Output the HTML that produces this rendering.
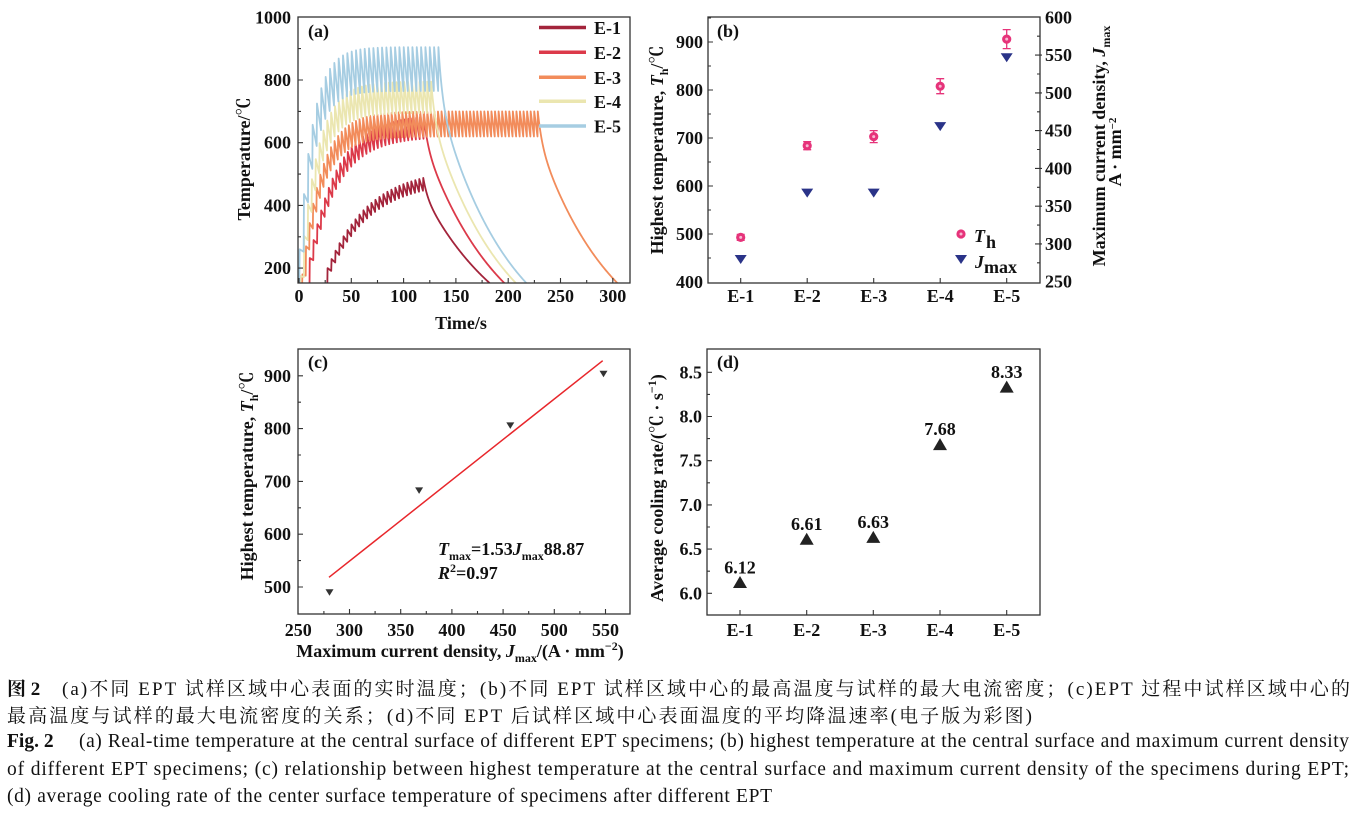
<!DOCTYPE html>
<html><head><meta charset="utf-8">
<style>
html,body{margin:0;padding:0;background:#fff;}
svg{display:block;}
.t{font-family:"Liberation Serif","Noto Serif CJK SC",serif;font-weight:bold;font-size:18px;fill:#111;}
.cap{font-family:"Liberation Serif","Noto Serif CJK SC",serif;font-size:19px;fill:#111;}
.cape{font-family:"Liberation Serif","Noto Serif CJK SC",serif;font-size:19.5px;fill:#111;}
.fr{fill:none;stroke:#333;stroke-width:1.3;}
.tk{fill:none;stroke:#333;stroke-width:1.1;}
</style></head><body>
<svg width="1357" height="813" viewBox="0 0 1357 813" xmlns="http://www.w3.org/2000/svg">
<defs><clipPath id="ca"><rect x="298" y="17" width="332" height="266"/></clipPath></defs>

<!-- ============ Panel (a) ============ -->
<g clip-path="url(#ca)" fill="none" stroke-width="1.8" stroke-linejoin="round">
<path id="e1" stroke="#a3243b"/>
<path id="e2" stroke="#dc3a4a"/>
<path id="e3" stroke="#f28c5b"/>
<path id="e4" stroke="#ebe6b0"/>
<path id="e5" stroke="#a6cde2"/>
</g>
<rect class="fr" x="298" y="17" width="332" height="266"/>
<path class="tk" d="M298 268.1h5M298 205.4h5M298 142.7h5M298 80h5M298 236.8h3M298 174.1h3M298 111.4h3M298 48.6h3
M299 283v-5M351.3 283v-5M403.6 283v-5M455.9 283v-5M508.2 283v-5M560.5 283v-5M612.8 283v-5
M325.2 283v-3M377.5 283v-3M429.8 283v-3M482.1 283v-3M534.4 283v-3M586.7 283v-3"/>
<g class="t" text-anchor="end">
<text x="291" y="274">200</text><text x="291" y="211.4">400</text><text x="291" y="148.7">600</text><text x="291" y="86">800</text><text x="291" y="23.3">1000</text>
</g>
<g class="t" text-anchor="middle">
<text x="299" y="302">0</text><text x="351.3" y="302">50</text><text x="403.6" y="302">100</text><text x="455.9" y="302">150</text><text x="508.2" y="302">200</text><text x="560.5" y="302">250</text><text x="612.8" y="302">300</text>
<text x="461" y="329">Time/s</text>
<text transform="translate(250,159) rotate(-90)">Temperature/℃</text>
</g>
<text class="t" x="308" y="37" font-size="17">(a)</text>
<g stroke-width="3.5">
<line x1="539" y1="27.5" x2="586" y2="27.5" stroke="#a3243b"/>
<line x1="539" y1="52.3" x2="586" y2="52.3" stroke="#dc3a4a"/>
<line x1="539" y1="77.3" x2="586" y2="77.3" stroke="#f28c5b"/>
<line x1="539" y1="101.3" x2="586" y2="101.3" stroke="#ebe6b0"/>
<line x1="539" y1="126" x2="586" y2="126" stroke="#a6cde2"/>
</g>
<g class="t">
<text x="594" y="34">E-1</text><text x="594" y="58.8">E-2</text><text x="594" y="83.8">E-3</text><text x="594" y="107.8">E-4</text><text x="594" y="132.5">E-5</text>
</g>

<!-- ============ Panel (b) ============ -->
<rect class="fr" x="708" y="17" width="332" height="266"/>
<path class="tk" d="M708 234h5M708 186h5M708 138h5M708 90h5M708 42h5M708 258h3M708 210h3M708 162h3M708 114h3M708 66h3M708 18h3
M1042 243.9h-7M1042 206.2h-7M1042 168.4h-7M1042 130.6h-7M1042 92.9h-7M1042 55.1h-7
M1040 262.8h-3M1040 225.1h-3M1040 187.3h-3M1040 149.5h-3M1040 111.8h-3M1040 74h-3M1040 36.2h-3
M740.7 283v-5M807.2 283v-5M873.7 283v-5M940.2 283v-5M1006.7 283v-5"/>
<g class="t" text-anchor="end">
<text x="703" y="288">400</text><text x="703" y="240">500</text><text x="703" y="192">600</text><text x="703" y="144">700</text><text x="703" y="96">800</text><text x="703" y="48">900</text>
</g>
<g class="t">
<text x="1045" y="287.7">250</text><text x="1045" y="249.9">300</text><text x="1045" y="212.2">350</text><text x="1045" y="174.4">400</text><text x="1045" y="136.6">450</text><text x="1045" y="98.9">500</text><text x="1045" y="61.1">550</text><text x="1045" y="23.3">600</text>
</g>
<g class="t" text-anchor="middle">
<text x="740.7" y="302">E-1</text><text x="807.2" y="302">E-2</text><text x="873.7" y="302">E-3</text><text x="940.2" y="302">E-4</text><text x="1006.7" y="302">E-5</text>
<text transform="translate(663,150) rotate(-90)">Highest temperature, <tspan font-style="italic">T</tspan><tspan font-size="12" dy="5">h</tspan><tspan dy="-5">/℃</tspan></text>
<text transform="translate(1105,146) rotate(-90)">Maximum current density, <tspan font-style="italic">J</tspan><tspan font-size="12" dy="5">max</tspan></text>
<text transform="translate(1121,152) rotate(-90)">A · mm<tspan font-size="11" dy="-5">−2</tspan></text>
</g>
<text class="t" x="717" y="37" font-size="17">(b)</text>
<!-- error bars -->
<g stroke="#e6337a" stroke-width="1.3" fill="none">
<path d="M740.7 234.4v6M736.7 234.4h8M736.7 240.4h8"/>
<path d="M807.2 141.7v8M803.2 141.7h8M803.2 149.7h8"/>
<path d="M873.7 130.6v12M869.7 130.6h8M869.7 142.6h8"/>
<path d="M940.2 78.7v15M936.2 78.7h8M936.2 93.7h8"/>
<path d="M1006.7 29.6v19M1002.7 29.6h8M1002.7 48.6h8"/>
</g>
<g fill="#e6337a">
<circle cx="740.7" cy="237.4" r="4.6"/><circle cx="807.2" cy="145.7" r="4.6"/><circle cx="873.7" cy="136.6" r="4.6"/><circle cx="940.2" cy="86.2" r="4.6"/><circle cx="1006.7" cy="39.1" r="4.6"/>
<circle cx="961" cy="234" r="4.6"/>
</g>
<g fill="#f7b8d2">
<circle cx="740.7" cy="237.4" r="1.5"/><circle cx="807.2" cy="145.7" r="1.5"/><circle cx="873.7" cy="136.6" r="1.5"/><circle cx="940.2" cy="86.2" r="1.5"/><circle cx="1006.7" cy="39.1" r="1.5"/><circle cx="961" cy="234" r="1.5"/>
</g>
<g fill="#2a3388">
<polygon points="734.7,255 746.7,255 740.7,264"/>
<polygon points="801.2,188.6 813.2,188.6 807.2,197.6"/>
<polygon points="867.7,188.6 879.7,188.6 873.7,197.6"/>
<polygon points="934.2,122.1 946.2,122.1 940.2,131.1"/>
<polygon points="1000.7,53.3 1012.7,53.3 1006.7,62.3"/>
<polygon points="955,255 967,255 961,264"/>
</g>
<text class="t" x="974" y="242" font-style="italic">T</text>
<text class="t" x="986" y="248" font-size="10">h</text>
<text class="t" x="975" y="268" font-style="italic">J</text>
<text class="t" x="984" y="273" font-size="10">max</text>

<!-- ============ Panel (c) ============ -->
<rect class="fr" x="298" y="349" width="332" height="265"/>
<path class="tk" d="M298 587h5M298 534.2h5M298 481.4h5M298 428.6h5M298 375.8h5M298 560.6h3M298 507.8h3M298 455h3M298 402.2h3
M349.5 614v-5M400.7 614v-5M451.9 614v-5M503.1 614v-5M554.3 614v-5M605.5 614v-5
M323.9 614v-3M375.1 614v-3M426.3 614v-3M477.5 614v-3M528.7 614v-3M579.9 614v-3"/>
<g class="t" text-anchor="end">
<text x="291" y="593">500</text><text x="291" y="540.2">600</text><text x="291" y="487.4">700</text><text x="291" y="434.6">800</text><text x="291" y="381.8">900</text>
</g>
<g class="t" text-anchor="middle">
<text x="298.3" y="636">250</text><text x="349.5" y="636">300</text><text x="400.7" y="636">350</text><text x="451.9" y="636">400</text><text x="503.1" y="636">450</text><text x="554.3" y="636">500</text><text x="605.5" y="636">550</text>
<text x="460" y="657">Maximum current density, <tspan font-style="italic">J</tspan><tspan font-size="12" dy="5">max</tspan><tspan dy="-5">/(A · mm</tspan><tspan font-size="12" dy="-7">−2</tspan><tspan dy="7">)</tspan></text>
<text transform="translate(253,476) rotate(-90)">Highest temperature, <tspan font-style="italic">T</tspan><tspan font-size="12" dy="5">h</tspan><tspan dy="-5">/℃</tspan></text>
</g>
<text class="t" x="308" y="368" font-size="17">(c)</text>
<line x1="329" y1="577.3" x2="602.7" y2="360.7" stroke="#e8262b" stroke-width="1.5"/>
<g fill="#333">
<polygon points="325.5,589.3 333.5,589.3 329.5,595.8"/>
<polygon points="415.1,487.4 423.1,487.4 419.1,493.9"/>
<polygon points="506.3,422.4 514.3,422.4 510.3,428.9"/>
<polygon points="599.5,370.7 607.5,370.7 603.5,377.2"/>
</g>
<text class="t" x="438" y="555"><tspan font-style="italic">T</tspan><tspan font-size="12" dy="5">max</tspan><tspan dy="-5">=1.53</tspan><tspan font-style="italic">J</tspan><tspan font-size="12" dy="5">max</tspan><tspan dy="-5">88.87</tspan></text>
<text class="t" x="438" y="579"><tspan font-style="italic">R</tspan><tspan font-size="12" dy="-7">2</tspan><tspan dy="7">=0.97</tspan></text>

<!-- ============ Panel (d) ============ -->
<rect class="fr" x="707" y="349" width="333" height="266"/>
<path class="tk" d="M707 593.3h5M707 549.1h5M707 504.9h5M707 460.7h5M707 416.5h5M707 372.3h5
M707 571.2h3M707 527h3M707 482.8h3M707 438.6h3M707 394.4h3
M740 615v-5M806.7 615v-5M873.3 615v-5M940 615v-5M1006.7 615v-5"/>
<g class="t" text-anchor="end">
<text x="702" y="599.3">6.0</text><text x="702" y="555.1">6.5</text><text x="702" y="510.9">7.0</text><text x="702" y="466.7">7.5</text><text x="702" y="422.5">8.0</text><text x="702" y="378.3">8.5</text>
</g>
<g class="t" text-anchor="middle">
<text x="740" y="636">E-1</text><text x="806.7" y="636">E-2</text><text x="873.3" y="636">E-3</text><text x="940" y="636">E-4</text><text x="1006.7" y="636">E-5</text>
<text x="740" y="573.5">6.12</text><text x="806.7" y="530">6.61</text><text x="873.3" y="528.2">6.63</text><text x="940" y="435">7.68</text><text x="1006.7" y="378">8.33</text>
<text transform="translate(663,488) rotate(-90)">Average cooling rate/(℃ · s<tspan font-size="12" dy="-7">−1</tspan><tspan dy="7">)</tspan></text>
</g>
<text class="t" x="717" y="368" font-size="17">(d)</text>
<g fill="#222">
<polygon points="733,588 747,588 740,576"/>
<polygon points="799.7,544.7 813.7,544.7 806.7,532.7"/>
<polygon points="866.3,542.9 880.3,542.9 873.3,530.9"/>
<polygon points="933,450.1 947,450.1 940,438.1"/>
<polygon points="999.7,392.6 1013.7,392.6 1006.7,380.6"/>
</g>

<!-- ============ Caption ============ -->
<text class="cap" x="7" y="695" font-weight="bold">图 2</text>
<text class="cap" x="62" y="695" textLength="1288" lengthAdjust="spacing">(a)不同 EPT 试样区域中心表面的实时温度；(b)不同 EPT 试样区域中心的最高温度与试样的最大电流密度；(c)EPT 过程中试样区域中心的</text>
<text class="cap" x="7" y="722" textLength="1025" lengthAdjust="spacing">最高温度与试样的最大电流密度的关系；(d)不同 EPT 后试样区域中心表面温度的平均降温速率(电子版为彩图)</text>
<text class="cape" x="7" y="747" font-weight="bold">Fig. 2</text>
<text class="cape" x="79" y="747" textLength="1270" lengthAdjust="spacing">(a) Real-time temperature at the central surface of different EPT specimens; (b) highest temperature at the central surface and maximum current density</text>
<text class="cape" x="7" y="775" textLength="1342" lengthAdjust="spacing">of different EPT specimens; (c) relationship between highest temperature at the central surface and maximum current density of the specimens during EPT;</text>
<text class="cape" x="7" y="802" textLength="765" lengthAdjust="spacing">(d) average cooling rate of the center surface temperature of specimens after different EPT</text>
</svg>
<script>
(function(){
 var X=function(t){return 299+1.046*t;}, Y=function(T){return 17.3+(1000-T)*0.3135;};
 var Ta=25;
 var cs=[
  {id:'e1',ts:27,te:118.5,p:3.8,pre:130,P0:200,Pinf:520,tau:40,A:42,n:1.5,tc:183,F:50},
  {id:'e2',ts:10,te:119,p:3.6,pre:130,P0:232,Pinf:690,tau:27,A:70,n:2,tc:197,F:80},
  {id:'e3',ts:3,te:228,p:3.4,pre:150,P0:180,Pinf:700,tau:18,A:80,n:2,tc:305,F:90},
  {id:'e4',ts:1,te:126,p:3.7,pre:150,P0:175,Pinf:795,tau:16,A:100,n:2,tc:208,F:120},
  {id:'e5',ts:0.3,te:133,p:4.2,pre:150,P0:260,Pinf:905,tau:13,A:140,n:2.2,tc:218,F:170}
 ];
 cs.forEach(function(c){
  var N=Math.round((c.te-c.ts)/c.p), p=(c.te-c.ts)/N;
  var pk=function(t){return c.Pinf-(c.Pinf-c.P0)*Math.exp(-(t-c.ts)/c.tau);};
  var am=function(P){return c.A*Math.pow(Math.max(P-Ta,0)/(c.Pinf-Ta),c.n);};
  var pts=[[c.ts,c.pre]], P=0;
  for(var k=0;k<=N;k++){
   var tp=c.ts+k*p; P=pk(tp);
   pts.push([tp+0.3,P]);
   if(k<N) pts.push([tp+p,P-am(P)]);
  }
  var tL=c.te+0.3, TL=P, Tb=-100, S=TL-c.F-Tb;
  var tau2=(c.tc-tL)/Math.log(S/(150-Tb));
  for(var dt=0.5;tL+dt<=c.tc+8;dt+=0.5){
   pts.push([tL+dt,Tb+S*Math.exp(-dt/tau2)+c.F*Math.exp(-dt/4)]);
  }
  var d='M'+pts.map(function(q){return X(q[0]).toFixed(2)+','+Y(q[1]).toFixed(2);}).join('L');
  document.getElementById(c.id).setAttribute('d',d);
 });
})();
</script>
</body></html>
